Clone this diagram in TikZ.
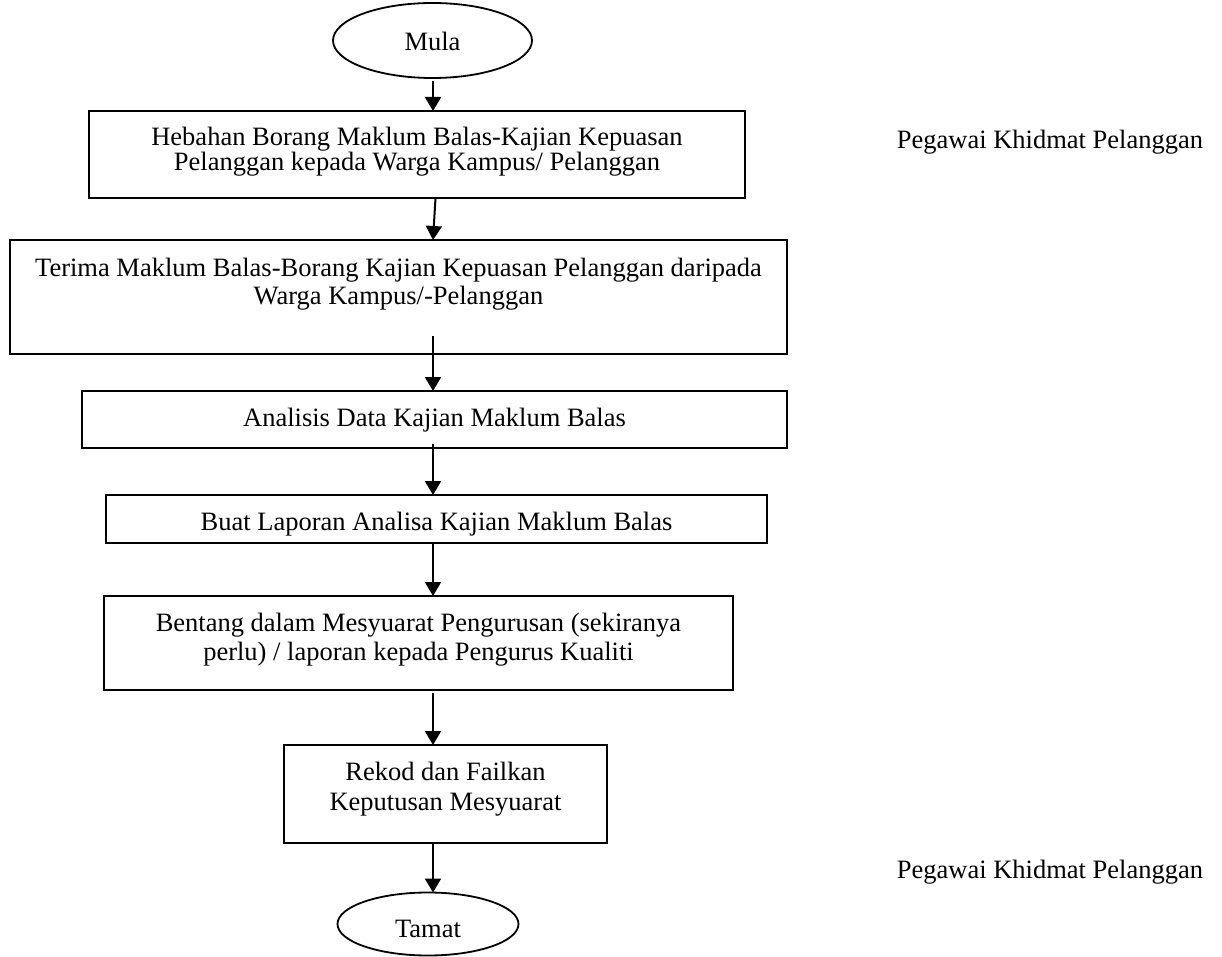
\documentclass[tikz,border=0pt]{standalone}
\usepackage{fontspec}
\setmainfont{Liberation Serif}
\usetikzlibrary{shapes.geometric,arrows.meta,calc}
\newcommand\bxt[5]{\parbox[c][#2pt][t]{#1pt}{\fontsize{26.5pt}{#4pt}\selectfont\centering\rule{0pt}{#3pt}#5}}
\begin{document}
\begin{tikzpicture}[x=1pt,y=-1pt,
  flowbox/.style={draw, line width=2pt, inner sep=0pt, outer sep=0pt},
  term/.style={draw, ellipse, line width=1.8pt, inner sep=0pt, outer sep=0pt, font=\fontsize{26.5pt}{30pt}\selectfont},
  conn/.style={line width=2pt, -{Triangle[width=16pt,length=14pt]}},
  lbl/.style={font=\fontsize{26.5pt}{30pt}\selectfont, inner sep=0pt, anchor=base}]
\useasboundingbox (0,0) rectangle (1222,957);
\fill[white] (0,0) rectangle (1222,957);

\node[term, minimum width=199pt, minimum height=75pt, text height=20.4pt, text depth=0pt] (mula) at (432.5,40.5) {Mula};

\node[flowbox] (b1) at (417,154.5) {\bxt{656}{87}{34.7}{24.5}{Hebahan Borang Maklum Balas-Kajian Kepuasan\\Pelanggan kepada Warga Kampus/ Pelanggan}};
\node[flowbox] (b2) at (398.5,297) {\bxt{777}{114}{36.5}{28.3}{Terima Maklum Balas-Borang Kajian Kepuasan Pelanggan daripada\\Warga Kampus/-Pelanggan}};
\node[flowbox] (b3) at (434.5,419.5) {\bxt{705}{57}{35.5}{30}{Analisis Data Kajian Maklum Balas}};
\node[flowbox] (b4) at (436.5,519) {\bxt{661}{48}{35}{30}{Buat Laporan Analisa Kajian Maklum Balas}};
\node[flowbox] (b5) at (418.5,643) {\bxt{629}{94}{35.7}{28.3}{Bentang dalam Mesyuarat Pengurusan (sekiranya\\perlu) / laporan kepada Pengurus Kualiti}};
\node[flowbox] (b6) at (445.5,794) {\bxt{323}{98}{35}{30}{Rekod dan Failkan\\Keputusan Mesyuarat}};

\node[term, minimum width=181pt, minimum height=63pt, text height=26pt, text depth=0pt] (tamat) at (428,924) {Tamat};

\node[lbl] (p1) at (1050,149) {Pegawai Khidmat Pelanggan};
\node[lbl] (p2) at (1050,878) {Pegawai Khidmat Pelanggan};

\coordinate (ax) at (433,0);
\coordinate (axs) at (435.5,0);

\draw[conn] ($(mula.south -| ax)+(0,3)$) -- (b1.north -| ax);
\draw[conn] (b1.south -| axs) -- (b2.north -| ax);
\draw[conn] ($(b2.south -| ax)+(0,-18)$) -- (b3.north -| ax);
\draw[conn] ($(b3.south -| ax)+(0,-4)$) -- (b4.north -| ax);
\draw[conn] (b4.south -| ax) -- (b5.north -| ax);
\draw[conn] ($(b5.south -| ax)+(0,3)$) -- (b6.north -| ax);
\draw[conn] (b6.south -| ax) -- (tamat.north -| ax);
\end{tikzpicture}
\end{document}
